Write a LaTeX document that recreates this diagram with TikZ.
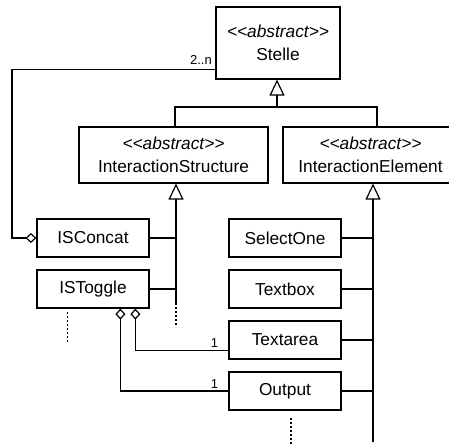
\documentclass[tikz,border=0pt]{standalone}
\usepackage{fontspec}
\setmainfont{Liberation Sans}
\usetikzlibrary{arrows.meta,calc}
\newcommand{\abst}{\textit{{<}{<}abstract{>}{>}}}
\begin{document}
\begin{tikzpicture}[x=1pt,y=-1pt,line width=1.2pt,
  cls/.style={draw,line width=1.2pt,inner sep=0pt,align=center,
    font=\fontsize{17.3}{22.5}\selectfont},
  gen/.style={-{Triangle[open,width=15pt,length=16pt]}},
  agg/.style={-{Diamond[open,width=10pt,length=11pt]}},
  dots/.style={dash pattern=on 2pt off 2pt},
  mult/.style={font=\fontsize{13}{14}\selectfont,inner sep=0pt}]
\useasboundingbox (0,0) rectangle (449,445);
\clip (0,0) rectangle (449,445);
\node[cls,minimum width=124pt,minimum height=72pt] (Stelle) at (278,43) {\abst\\Stelle};
\node[cls,minimum width=189pt,minimum height=56pt] (IS) at (173.5,155) {\abst\\InteractionStructure};
\node[cls,minimum width=175pt,minimum height=56pt] (IE) at (370.5,155) {\abst\\InteractionElement};
\node[cls,minimum width=112pt,minimum height=38pt] (ISConcat) at (93,238) {ISConcat};
\node[cls,minimum width=112pt,minimum height=38pt] (ISToggle) at (93,289) {ISToggle};
\node[cls,minimum width=112pt,minimum height=38pt] (SelectOne) at (285,238) {SelectOne};
\node[cls,minimum width=112pt,minimum height=38pt] (Textbox) at (285,289) {Textbox};
\node[cls,minimum width=112pt,minimum height=38pt] (Textarea) at (285,340) {Textarea};
\node[cls,minimum width=112pt,minimum height=38pt] (Output) at (285,391) {Output};
% generalization Stelle
\coordinate (j1) at (277,107);
\coordinate (a) at (175,107);
\coordinate (b) at (377,107);
\draw[gen] (j1) -- (Stelle.south -| j1);
\draw (IS.north -| a) -- (a) -- (b) -- (IE.north -| b);
% generalization InteractionStructure
\coordinate (c1) at (176,303);
\coordinate (c1e) at (176,325);
\draw[gen] (c1) -- (IS.south -| c1);
\draw[dots] (c1) -- (c1e);
\draw (ISConcat.east) -- (ISConcat.east -| c1);
\draw (ISToggle.east) -- (ISToggle.east -| c1);
% generalization InteractionElement
\coordinate (c2) at (373,442);
\draw[gen] (c2) -- (IE.south -| c2);
\draw (SelectOne.east) -- (SelectOne.east -| c2);
\draw (Textbox.east) -- (Textbox.east -| c2);
\draw (Textarea.east) -- (Textarea.east -| c2);
\draw (Output.east) -- (Output.east -| c2);
% aggregation Stelle - ISConcat
\coordinate (k1) at (12,238);
\draw[agg] ($(Stelle.south west)+(0,-10)$) -| (k1) -- (ISConcat.west);
\node[mult,anchor=base east] (m0) at ($(Stelle.south west)+(-3,-15)$) {2..n};
% aggregations ISToggle
\draw[agg] ($(Textarea.south west)+(0,-9)$) -| ($(ISToggle.south west)+(99,0)$);
\draw[agg] (Output.west) -| ($(ISToggle.south west)+(84,0)$);
\node[mult,anchor=base] (m1) at ($(Textarea.south west)+(-14,-12)$) {1};
\node[mult,anchor=base] (m2) at ($(Output.west)+(-14,-3)$) {1};
% dotted continuations
\draw[dots] ($(ISToggle.south west)+(31,3)$) -- ($(ISToggle.south west)+(31,34)$);
\draw[dots] ($(Output.south)+(6,7)$) -- ($(Output.south)+(6,35)$);
\end{tikzpicture}
\end{document}
